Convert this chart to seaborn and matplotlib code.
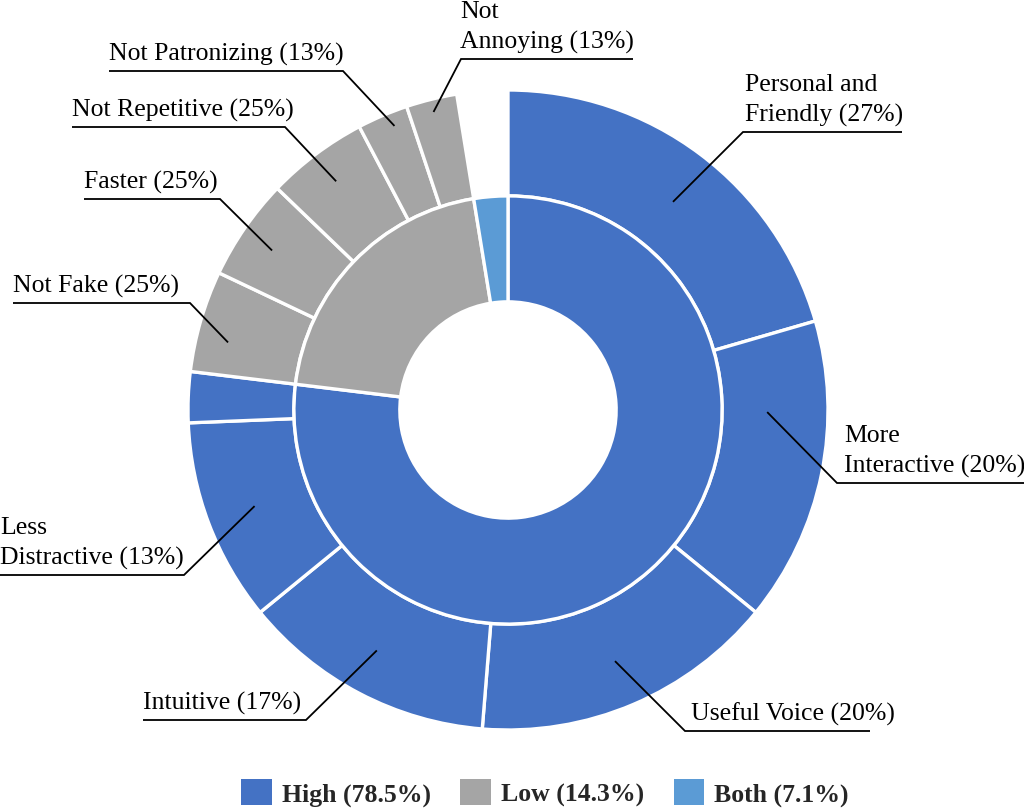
import numpy as np
import matplotlib
matplotlib.use("Agg")
import matplotlib.pyplot as plt
from matplotlib.patches import Patch
import seaborn as sns

# inner ring: counts per group
groups = ["High", "Low", "Both"]
group_counts = [30, 8, 1]
legend_labels = ["High (78.5%)", "Low (14.3%)", "Both (7.1%)"]

# outer ring: counts per reason (last entry fills the "Both" slot, left empty)
reasons = ["Personal and\nFriendly (27%)", "More\nInteractive (20%)", "Useful Voice (20%)",
           "Intuitive (17%)", "Less\nDistractive (13%)", "",
           "Not Fake (25%)", "Faster (25%)", "Not Repetitive (25%)",
           "Not Patronizing (13%)", "Not\nAnnoying (13%)", ""]
reason_counts = [8, 6, 6, 5, 4, 1, 2, 2, 2, 1, 1, 1]
reason_group = ["High"] * 6 + ["Low"] * 5 + ["Both"]

colors = {"High": "#4472C4", "Low": "#A5A5A5", "Both": "#5B9BD5"}

sns.set_theme(style="white")
plt.rcParams["font.family"] = ["Liberation Serif", "DejaVu Serif"]

W, H = 1024, 809
CX, CY, R = 508, 410, 320


def px(x, y):
    # figure pixels -> data units (pie radius = 1)
    return (x - CX) / R, (CY - y) / R


fig = plt.figure(figsize=(W / 100, H / 100), dpi=100)
ax = fig.add_axes([0, 0, 1, 1])

outer_colors = [colors[g] if g != "Both" else (1, 1, 1, 0) for g in reason_group]
outer_wedges, _ = ax.pie(reason_counts, radius=1.0, startangle=90, counterclock=False,
                         colors=outer_colors,
                         wedgeprops=dict(width=0.331, edgecolor="white", linewidth=2.4))
outer_wedges[-1].set_edgecolor((1, 1, 1, 0))

ax.pie(group_counts, radius=0.669, startangle=90, counterclock=False,
       colors=[colors[g] for g in groups],
       wedgeprops=dict(width=0.331, edgecolor="white", linewidth=2.4))

# label layout: (wedge index, position along wedge, radius of leader start,
#                elbow x, elbow y, far end x, text left x)  in figure pixels
layout = [
    (0, 0.52, 0.83, 743, 132, 902, 745),
    (1, 0.30, 0.81, 837, 483, 1024, 844),
    (2, 0.50, 0.853, 685, 731, 870, 691),
    (3, 0.52, 0.856, 306, 720, 143, 143),
    (4, 0.50, 0.847, 184, 575, 0, 0),
    (6, 0.36, 0.90, 190, 303, 13, 13),
    (7, 0.47, 0.89, 220, 199, 84, 84),
    (8, 0.50, 0.894, 285, 127, 72, 72),
    (9, 0.64, 0.956, 343, 71, 109, 109),
    (10, 0.48, 0.96, 461, 59, 633, 460),
]

for idx, frac, rad, ex, ey, fx, tx in layout:
    w = outer_wedges[idx]
    ang = np.deg2rad(w.theta2 - frac * (w.theta2 - w.theta1))
    sx, sy = rad * np.cos(ang), rad * np.sin(ang)
    ex_d, ey_d = px(ex, ey)
    fx_d, _ = px(fx, ey)
    ax.plot([sx, ex_d, fx_d], [sy, ey_d, ey_d], color="black", lw=1.3,
            solid_capstyle="butt", solid_joinstyle="miter")
    tx_d, ty_d = px(tx, ey - 5)
    ax.text(tx_d, ty_d, reasons[idx], ha="left", va="bottom", fontsize=18.5,
            color="black", linespacing=1.42)

x0, y0 = px(0, H)
x1, y1 = px(W, 0)
ax.set_xlim(x0, x1)
ax.set_ylim(y0, y1)
ax.set_aspect("auto")
ax.axis("off")

handles = [Patch(facecolor=colors[g], edgecolor="none") for g in groups]
fig.legend(handles, legend_labels, loc="center", bbox_to_anchor=(545 / W, 1 - 793 / H),
           ncol=3, frameon=False, borderpad=0,
           prop=dict(family="Liberation Serif", weight="bold", size=18.5),
           handlelength=1.18, handleheight=1.18, handletextpad=0.4, columnspacing=1.15)

fig.savefig("out.png", dpi=100, facecolor="white")
